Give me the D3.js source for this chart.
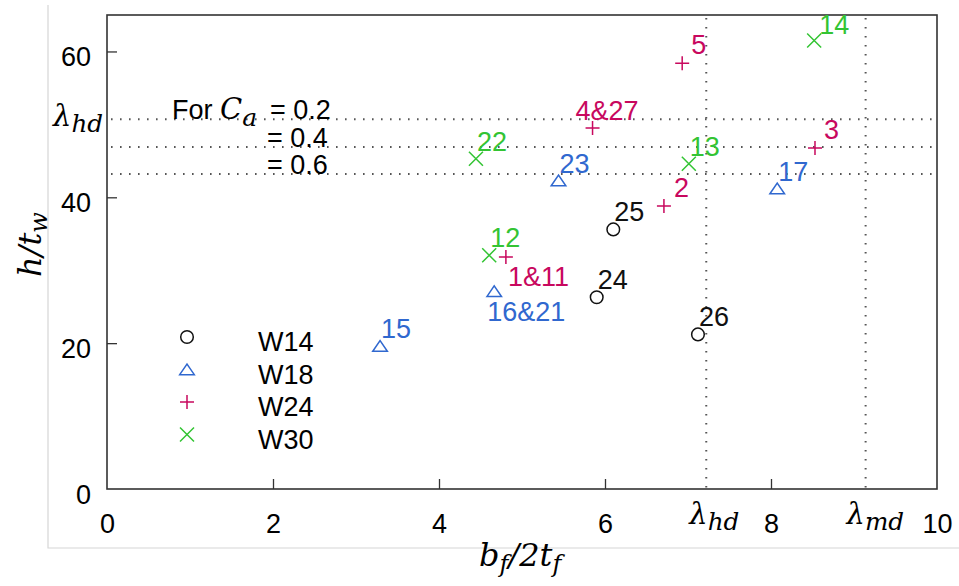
<!DOCTYPE html>
<html>
<head>
<meta charset="utf-8">
<script src="https://cdn.jsdelivr.net/npm/d3@7"></script>
<style>
  body { margin: 0; background: #fff; }
  text { font-family: "Liberation Sans", Arial, sans-serif; }
  .math { font-family: "DejaVu Serif", "Liberation Serif", serif; font-style: italic; }
</style>
</head>
<body>
<div id="viz"></div>
<script>
const w = 959;
const h = 586;

// data: [b_f/2t_f, h/t_w, specimen label]
const seriesNames = ['W14', 'W18', 'W24', 'W30'];
const w14 = [[6.10, 35.6, '25'], [5.90, 26.3, '24'], [7.12, 21.2, '26']];
const w18 = [[3.29, 19.6, '15'], [4.665, 27.1, '16&21'], [5.44, 42.3, '23'], [8.075, 41.2, '17']];
const w24 = [[4.806, 31.8, '1&11'], [6.71, 38.8, '2'], [8.53, 46.75, '3'], [5.85, 49.5, '4&27'], [6.93, 58.4, '5']];
const w30 = [[4.605, 32.05, '12'], [7.01, 44.6, '13'], [8.52, 61.5, '14'], [4.445, 45.3, '22']];
const xTicks = [0, 2, 4, 6, 8, 10];
const yTicks = [0, 20, 40, 60];
const caValues = ['0.2', '0.4', '0.6'];
const caLimits = [50.7, 46.9, 43.2];   // lambda_hd of web for each Ca
const lambdaHd = 7.22;                  // flange lambda_hd
const lambdaMd = 9.14;                  // flange lambda_md

const colors = { W14: '#111111', W18: '#3068cf', W24: '#c8085e', W30: '#33c433' };
const shapes = { W14: 'circle', W18: 'triangle', W24: 'plus', W30: 'x' };

// where the labels sit around their marker (most go up-right)
const labelOffset = {
  '4&27': [-17, -8], '5': [9, -9], '3': [9, -9], '2': [10, -9],
  '14': [5, -7], '1&11': [2, 29], '16&21': [-7, 30]
};

const fs = 27;
const pLeft = 107, pRight = 937, pTop = 15, pBottom = 489;

const x = d3.scaleLinear().domain([0, 10]).range([pLeft, pRight]);
const y = d3.scaleLinear().domain([0, 65]).range([pBottom, pTop]);

const svg = d3.select('#viz').append('svg')
    .attr('width', w)
    .attr('height', h)

// light frame of the pasted figure
svg.append('path')
    .attr('d', `M48,5V548H${w}`)
    .attr('fill', 'none')
    .attr('stroke', '#d6d6d6')
    .attr('stroke-width', 1.2)

function markerPath(type) {
  if (type == 'circle') {
    const p = d3.path(); p.arc(0, 0, 6.3, 0, 2 * Math.PI); return p.toString();
  }
  if (type == 'triangle') return 'M-7.3,5.2L0,-5.5L7.3,5.2Z';
  if (type == 'plus') return 'M-7,0H7M0,-7V7';
  return 'M-7,-7L7,7M-7,7L7,-7';
}

// dotted limit lines
const dots = svg.append('g')
    .attr('stroke', '#555')
    .attr('stroke-width', 2)
    .attr('stroke-dasharray', '1.6,7.4')

dots.selectAll('line.h').data(caLimits).enter().append('line')
    .attr('x1', pLeft + 4).attr('x2', pRight - 3)
    .attr('y1', d => y(d)).attr('y2', d => y(d))

dots.selectAll('line.v').data([lambdaHd, lambdaMd]).enter().append('line')
    .attr('x1', d => x(d)).attr('x2', d => x(d))
    .attr('y1', pTop + 3).attr('y2', pBottom)

// axes (ticks pointing inward)
const xAxis = svg.append('g')
    .attr('transform', `translate(0,${pBottom})`)
    .call(d3.axisBottom(x).tickValues(xTicks).tickSize(-10).tickPadding(26).tickFormat(d3.format('d')))
xAxis.select('.domain').remove()
xAxis.selectAll('.tick line').attr('stroke', '#333').attr('stroke-width', 1.3)
xAxis.selectAll('text').attr('font-size', fs).attr('fill', '#000').attr('dy', 0).attr('y', 44)
    .attr('font-family', '"Liberation Sans", Arial, sans-serif')
xAxis.selectAll('.tick').filter(d => d == 0 || d == 10).select('line').remove()

const yAxis = svg.append('g')
    .attr('transform', `translate(${pLeft},0)`)
    .call(d3.axisLeft(y).tickValues(yTicks).tickSize(-10).tickPadding(16).tickFormat(d3.format('d')))
yAxis.select('.domain').remove()
yAxis.selectAll('.tick line').attr('stroke', '#333').attr('stroke-width', 1.3)
yAxis.selectAll('text').attr('font-size', fs).attr('fill', '#000').attr('dy', 14.5)
    .attr('font-family', '"Liberation Sans", Arial, sans-serif')
yAxis.selectAll('.tick').filter(d => d == 0).select('line').remove()

// plot box
svg.append('rect')
    .attr('x', pLeft).attr('y', pTop)
    .attr('width', pRight - pLeft).attr('height', pBottom - pTop)
    .attr('fill', 'none')
    .attr('stroke', '#333')
    .attr('stroke-width', 1.6)

// lambda labels
function lambdaLabel(px, py, sub, size) {
  const t = svg.append('text').attr('class', 'math')
      .attr('x', px).attr('y', py).attr('font-size', size)
  t.append('tspan').text('λ')
  t.append('tspan').attr('dy', size * 0.2).attr('font-size', size * 0.85).text(sub)
}
lambdaLabel(53, y(caLimits[0]) + 7, 'hd', 29)
lambdaLabel(x(lambdaHd) - 17, 524, 'hd', 29)
lambdaLabel(x(lambdaMd) - 19, 524, 'md', 29)

// "For Ca = ..." note
const note = svg.append('text')
    .attr('x', 172).attr('y', y(caLimits[0]))
    .attr('font-size', fs)
note.append('tspan').text('For ')
note.append('tspan').attr('class', 'math').attr('font-size', 29).text('C')
note.append('tspan').attr('class', 'math').attr('font-size', 25).attr('dy', 7).text('a')
note.append('tspan').attr('x', 270).attr('dy', -7).text('= ' + caValues[0])
svg.selectAll('text.ca').data(caLimits.slice(1)).enter().append('text')
    .attr('class', 'ca')
    .attr('x', 267).attr('y', d => y(d))
    .attr('font-size', fs)
    .text((d, i) => '= ' + caValues[i + 1])

// axis titles
const xt = svg.append('text').attr('class', 'math')
    .attr('x', 479).attr('y', 566).attr('font-size', 32)
xt.append('tspan').text('b')
xt.append('tspan').attr('dy', 6).attr('font-size', 24).text('f')
xt.append('tspan').attr('dy', -6).text('/2t')
xt.append('tspan').attr('dy', 6).attr('font-size', 24).text('f')

const yt = svg.append('text').attr('class', 'math')
    .attr('transform', 'translate(41,277) rotate(-90)')
    .attr('font-size', 32)
yt.append('tspan').text('h/t')
yt.append('tspan').attr('dy', 6).attr('font-size', 24).text('w')

// points and labels
const allSeries = [w14, w18, w24, w30];
allSeries.forEach((pts, i) => {
  const name = seriesNames[i];
  const g = svg.append('g')
  g.selectAll('path').data(pts).enter().append('path')
      .attr('d', markerPath(shapes[name]))
      .attr('transform', d => `translate(${x(d[0])},${y(d[1])})`)
      .attr('fill', 'none')
      .attr('stroke', colors[name])
      .attr('stroke-width', 1.5)
  g.selectAll('text').data(pts).enter().append('text')
      .attr('x', d => x(d[0]) + (labelOffset[d[2]] || [1, -8])[0])
      .attr('y', d => y(d[1]) + (labelOffset[d[2]] || [1, -8])[1])
      .attr('font-size', fs)
      .attr('fill', colors[name])
      .text(d => d[2])
})

// legend
const legend = svg.append('g')
    .attr('transform', 'translate(187,337)')
seriesNames.forEach((name, i) => {
  legend.append('path')
      .attr('d', markerPath(shapes[name]))
      .attr('transform', `translate(0,${i * 32.5})`)
      .attr('fill', 'none')
      .attr('stroke', colors[name])
      .attr('stroke-width', 1.5)
  legend.append('text')
      .attr('x', 71).attr('y', i * 32.5 + 14)
      .attr('font-size', fs)
      .text(name)
})
</script>
</body>
</html>
